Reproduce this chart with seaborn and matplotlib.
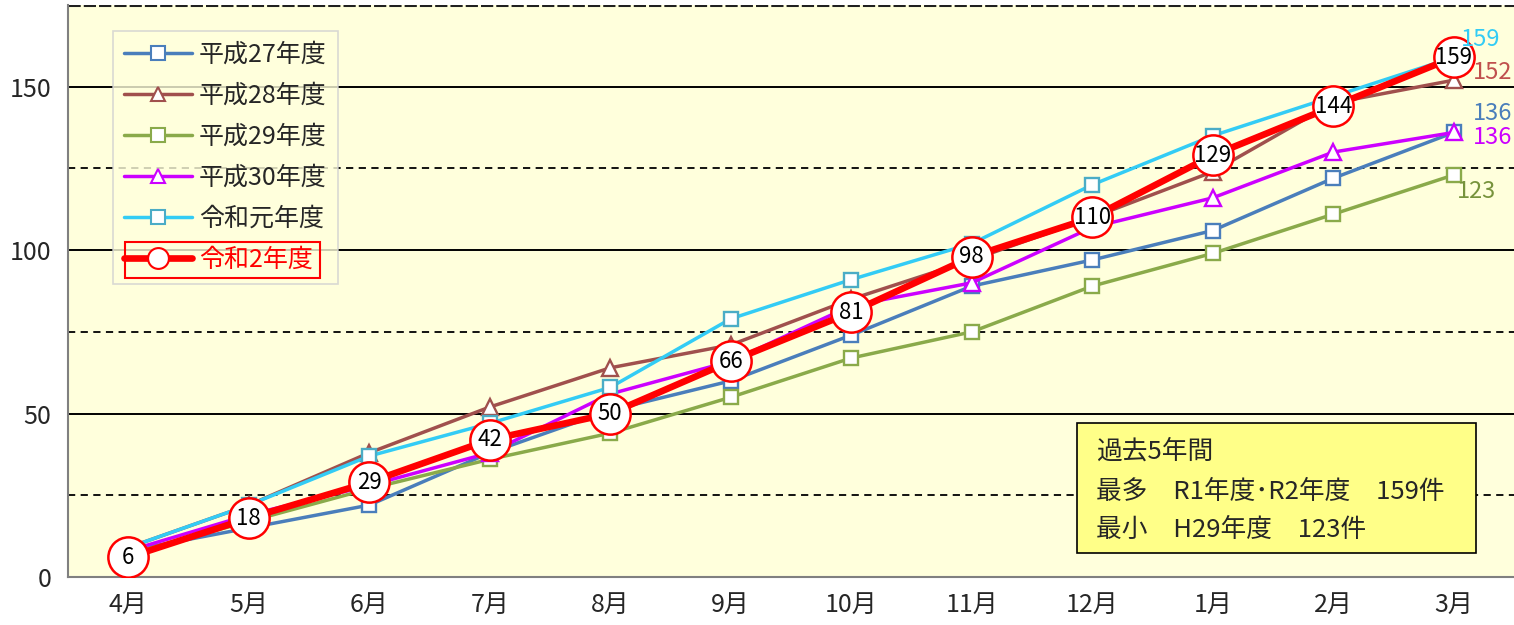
import numpy as np
import pandas as pd
import matplotlib.pyplot as plt
import seaborn as sns
from matplotlib.lines import Line2D
from matplotlib.patches import Rectangle

# monthly cumulative counts
months = ['4月', '5月', '6月', '7月', '8月', '9月', '10月', '11月', '12月', '1月', '2月', '3月']
h27 = [8, 15, 22, 38, 51, 60, 74, 89, 97, 106, 122, 136]
h28 = [9, 22, 38, 52, 64, 71, 85, 97, 110, 124, 145, 152]
h29 = [7, 17, 27, 36, 44, 55, 67, 75, 89, 99, 111, 123]
h30 = [8, 19, 28, 38, 56, 66, 83, 90, 107, 116, 130, 136]
r1 = [9, 22, 37, 47, 58, 79, 91, 102, 120, 135, 147, 159]
r2 = [6, 18, 29, 42, 50, 66, 81, 98, 110, 129, 144, 159]
names = ['平成27年度', '平成28年度', '平成29年度', '平成30年度', '令和元年度', '令和2年度']
box_lines = ['過去5年間', '最多　R1年度･R2年度　159件', '最小　H29年度　123件']

sns.set_style('white')
plt.rcParams['font.family'] = ['Noto Sans CJK JP', 'DejaVu Sans']

values = [h27, h28, h29, h30, r1, r2]
df = pd.DataFrame({
    'series': np.repeat(names, len(months)),
    'idx': np.tile(np.arange(len(months)), len(names)),
    'count': np.concatenate(values),
})

# line colour, marker edge, marker, line width, marker size
styles = {
    '平成27年度': ('#4A7EBB', '#4A7EBB', 's', 2.5, 10),
    '平成28年度': ('#A0504D', '#A0504D', '^', 2.5, 11),
    '平成29年度': ('#8AAA4A', '#8AAA4A', 's', 2.5, 10),
    '平成30年度': ('#CC00FF', '#CC00FF', '^', 2.5, 11),
    '令和元年度': ('#33CCF5', '#4BACC6', 's', 2.5, 10),
    '令和2年度': ('#FF0000', '#FF0000', 'o', 4.8, 29),
}

fig = plt.figure(figsize=(15.14, 6.25), dpi=100)
ax = fig.add_axes([68 / 1514, 48 / 625, 1446 / 1514, 572 / 625])
ax.set_facecolor('#FFFFDC')

for y in [50, 100, 150]:
    ax.axhline(y, color='black', lw=1.4, zorder=1)
for y in [25, 75, 125]:
    ax.axhline(y, color='black', lw=1.3, ls=(0, (4, 3)), zorder=1)
ax.axhline(175, color='#202020', lw=2.2, ls=(0, (4, 1)), zorder=1)

for name in names:
    c, mec, m, lw, ms = styles[name]
    sub = df[df.series == name]
    sns.lineplot(data=sub, x='idx', y='count', ax=ax, color=c, lw=lw,
                 marker=m, markersize=ms, markerfacecolor='white',
                 markeredgecolor=mec, markeredgewidth=1.7 if name != '令和2年度' else 1.8,
                 zorder=3 if name != '令和2年度' else 4, legend=False)

# labels inside the red circles
for i, v in enumerate(r2):
    ax.text(i, v, str(v), ha='center', va='center', fontsize=16, color='black', zorder=5)

# end labels
last = len(months) - 1
end_labels = [(r1, '#33CCF5', 7, 18), (h28, '#C0504D', 19, 8), (h27, '#4A7EBB', 19, 19),
              (h30, '#CC00FF', 19, -5), (h29, '#77933C', 3, -17)]
for vals, col, dx, dy in end_labels:
    ax.annotate(str(vals[-1]), (last, vals[-1]), xytext=(dx, dy), textcoords='offset pixels',
                ha='left', va='center', fontsize=17, color=col, zorder=6)

ax.set_xlim(-0.5, len(months) - 0.5)
ax.set_ylim(0, 175)
ax.set_xticks(range(len(months)))
ax.set_xticklabels(months, fontsize=18)
ax.set_xticks(np.arange(-0.5, len(months), 1.0), minor=True)
ax.tick_params(axis='x', which='major', length=0, pad=11)
ax.tick_params(axis='x', which='minor', length=9, width=1.2, color='#808080', direction='out')
ax.set_yticks([0, 50, 100, 150])
ax.tick_params(axis='y', length=6, width=1.2, color='#808080', direction='out', labelsize=18, pad=6)
ax.set_xlabel('')
ax.set_ylabel('')
for s in ['top', 'right']:
    ax.spines[s].set_visible(False)
for s in ['left', 'bottom']:
    ax.spines[s].set_color('#808080')
    ax.spines[s].set_linewidth(1.5)

# legend
handles = []
for name in names:
    c, mec, m, lw, ms = styles[name]
    handles.append(Line2D([], [], color=c, lw=lw if name != '令和2年度' else 4.8, marker=m,
                          markersize=10 if name != '令和2年度' else 15,
                          markerfacecolor='white', markeredgecolor=mec, markeredgewidth=1.5))
leg = ax.legend(handles, names, loc='upper left', bbox_to_anchor=(0.031, 0.955), fontsize=18,
                frameon=True, fancybox=False, facecolor='#FFFFDC', edgecolor='#D0D0D0',
                handlelength=2.7, labelspacing=0.6, borderpad=0.45, handletextpad=0.3,
                borderaxespad=0)
leg.get_frame().set_linewidth(1.2)
leg.get_texts()[-1].set_color('#FF0000')

fig.canvas.draw()
tb = leg.get_texts()[-1].get_window_extent()
lb = leg.get_window_extent()
x0 = lb.x0 + 12
x1 = tb.x1 + 7
y0 = tb.y0 - 5
y1 = tb.y1 + 5
inv = fig.transFigure.inverted()
(fx0, fy0), (fx1, fy1) = inv.transform([(x0, y0), (x1, y1)])
fig.patches.append(Rectangle((fx0, fy0), fx1 - fx0, fy1 - fy0, transform=fig.transFigure,
                             fill=False, edgecolor='#FF0000', lw=1.5, zorder=10))

# summary box
ax.add_patch(Rectangle((0.698, 0.042), 0.276, 0.227, transform=ax.transAxes,
                       facecolor='#FFFF88', edgecolor='black', lw=1.2, zorder=6))
for ty, t in zip([0.2185, 0.1486, 0.082], box_lines):
    ax.text(0.711, ty, t, transform=ax.transAxes, fontsize=18.5, ha='left', va='center', zorder=7)

fig.savefig('out.png', dpi=100)
